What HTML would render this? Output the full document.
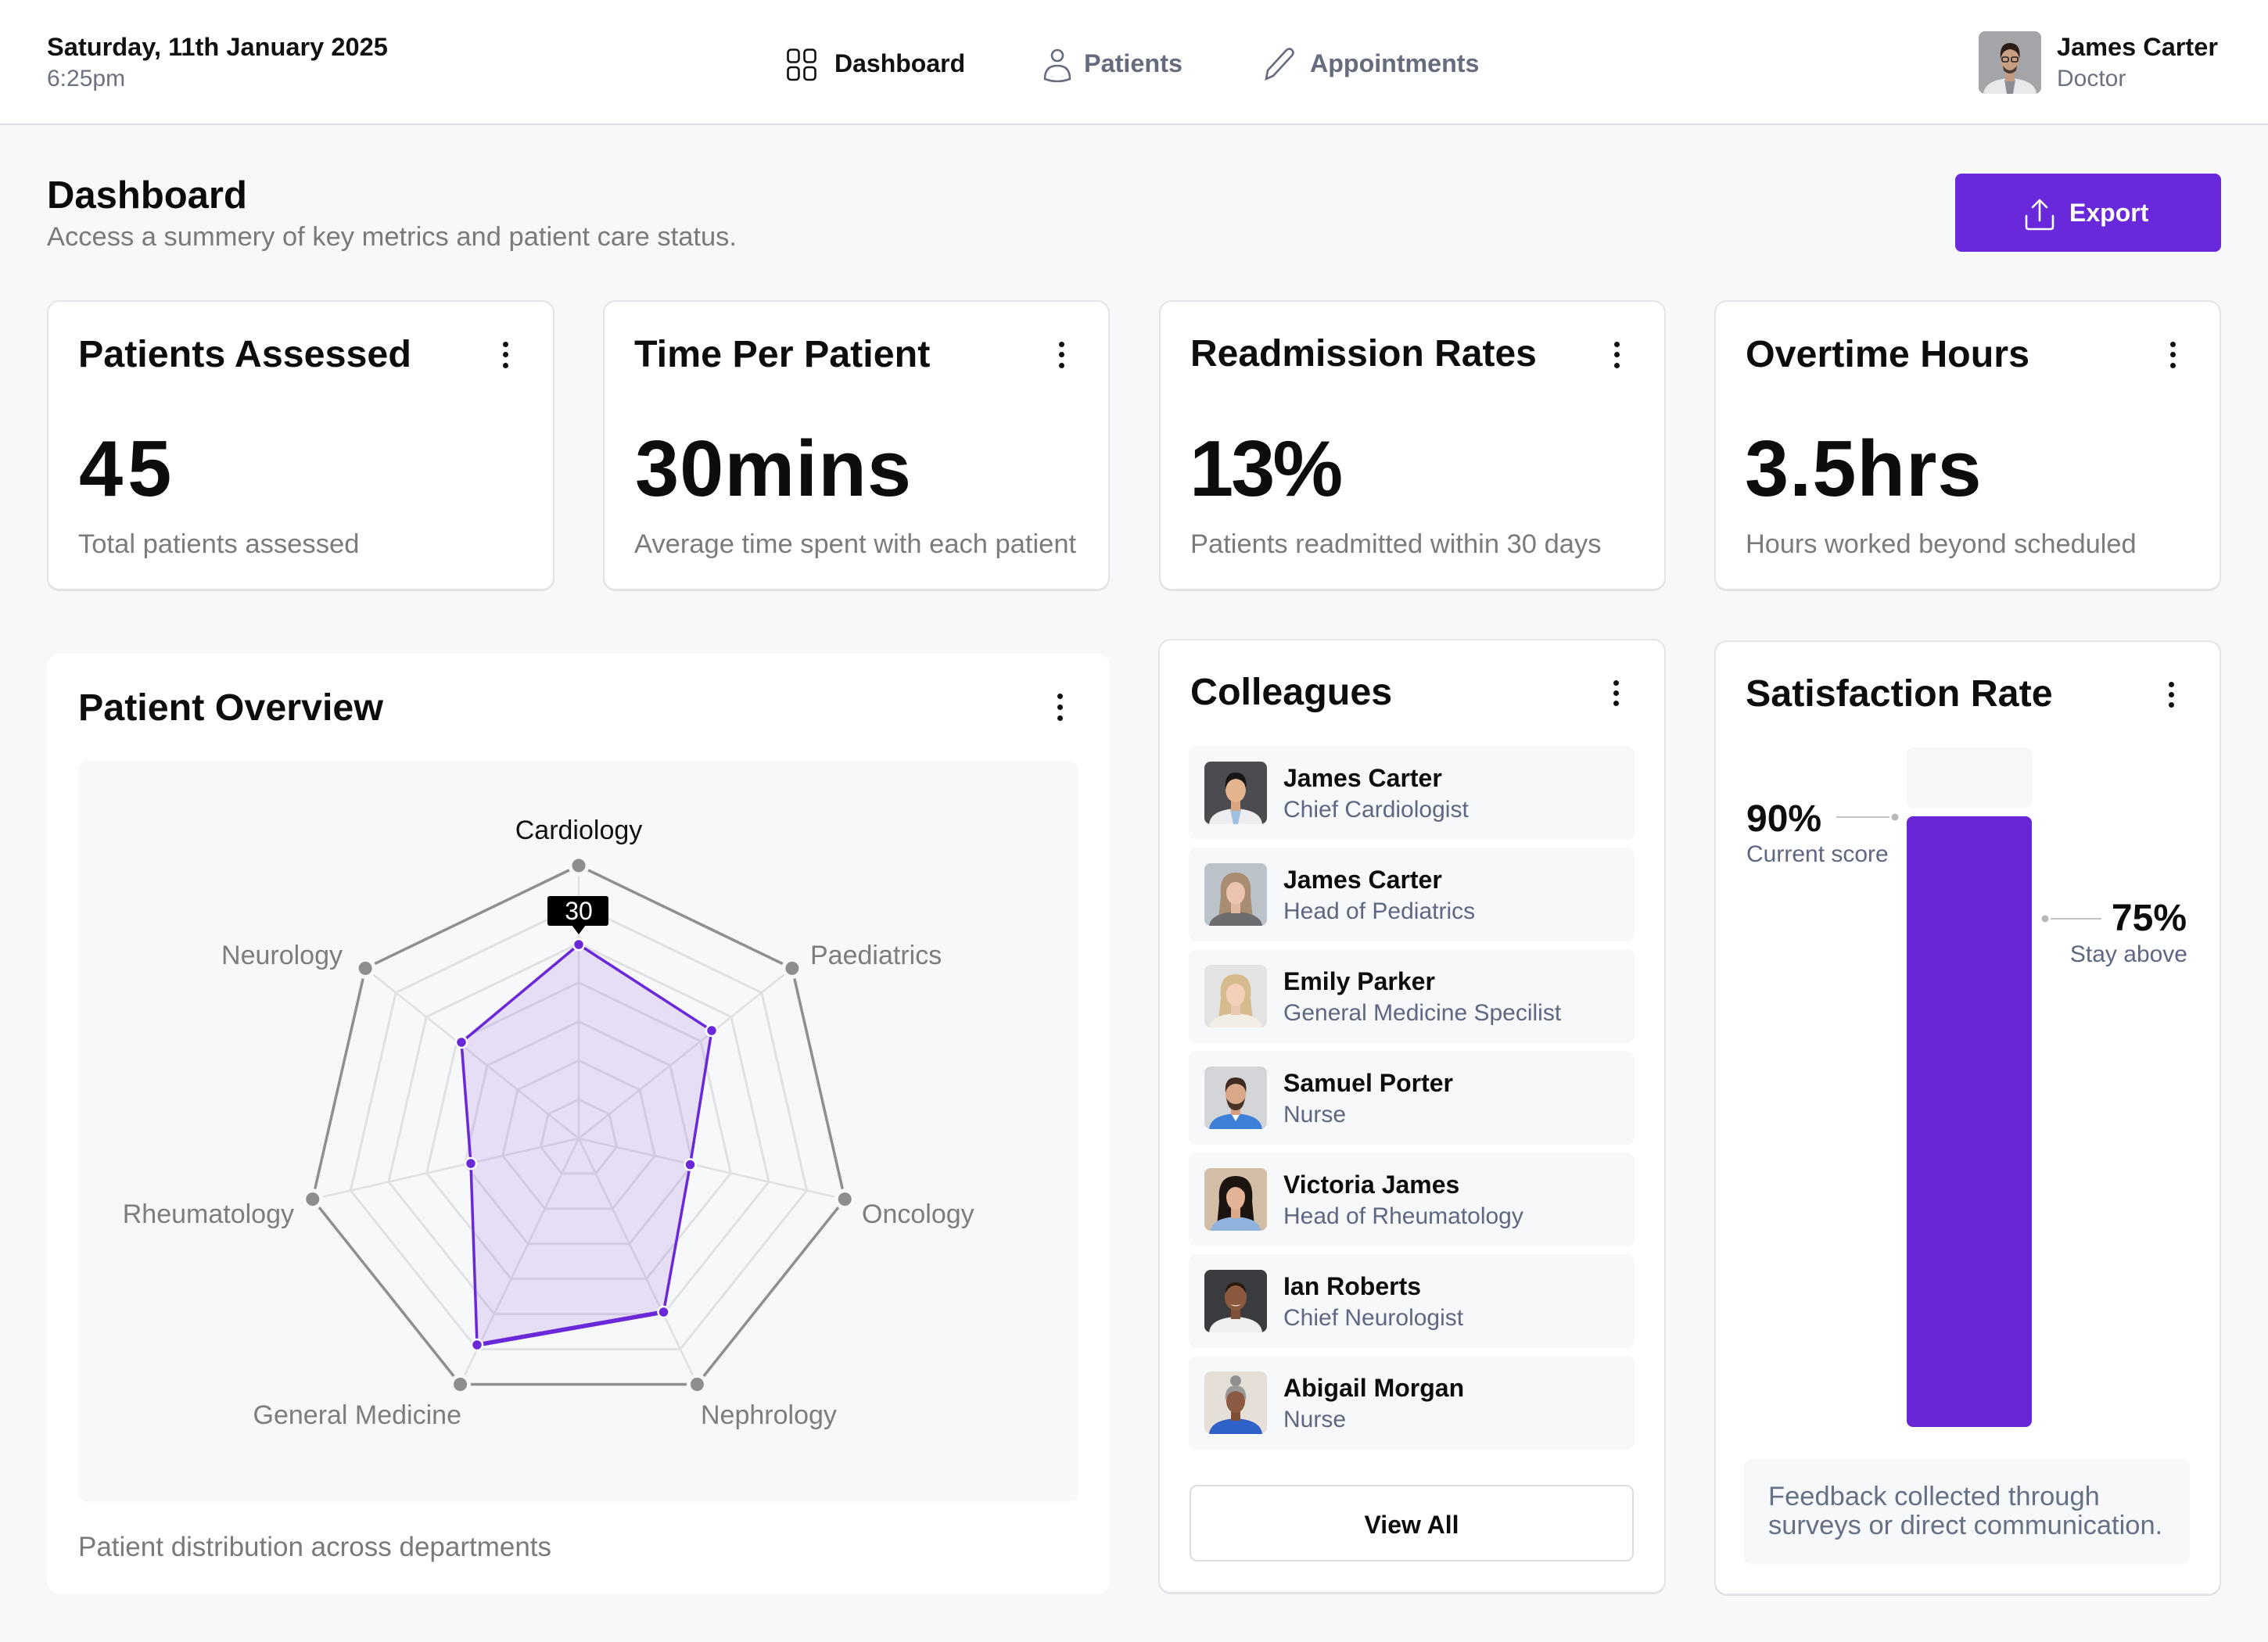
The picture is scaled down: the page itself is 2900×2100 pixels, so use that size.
<!DOCTYPE html>
<html><head><meta charset="utf-8"><style>
*{margin:0;padding:0;box-sizing:border-box}
html,body{width:2900px;height:2100px;overflow:hidden}
body{background:#f7f8fa;font-family:"Liberation Sans",Arial,sans-serif;position:relative;color:#0d0d0d}
.a{position:absolute}
.t{position:absolute;white-space:nowrap;line-height:1}
.b{font-weight:bold}
.card{position:absolute;background:#fff;border:2px solid #e3e4e7;border-radius:16px;box-shadow:0 1px 0 #e0e1e4}
.item{position:absolute;left:1520px;width:570px;height:120px;background:#f7f8fa;border-radius:10px}
.av{position:absolute;width:80px;height:80px;border-radius:8px;overflow:hidden}
.nm{position:absolute;left:1641px;font-size:32px;font-weight:bold;line-height:1;white-space:nowrap;color:#0d0d0d}
.rl{position:absolute;left:1641px;font-size:30px;line-height:1;white-space:nowrap;color:#5e6681}
.dot{position:absolute;width:7px;height:7px;border-radius:50%;background:#111}
</style></head><body>

<!-- header -->
<div class="a" style="left:0;top:0;width:2900px;height:160px;background:#fff;border-bottom:2px solid #dcdde0"></div>
<div class="t b" style="left:60px;top:44px;font-size:32.6px;color:#111">Saturday, 11th January 2025</div>
<div class="t" style="left:60px;top:86px;font-size:30px;color:#6b7180">6:25pm</div>

<svg class="a" style="left:0;top:0" width="2900" height="160">
  <g fill="none" stroke="#111" stroke-width="2.6">
    <rect x="1007.5" y="63.5" width="14" height="16" rx="4"/>
    <rect x="1028.5" y="63.5" width="14" height="16" rx="4"/>
    <rect x="1007.5" y="86" width="14" height="16" rx="4"/>
    <rect x="1028.5" y="86" width="14" height="16" rx="4"/>
  </g>
  <g fill="none" stroke="#666c7e" stroke-width="2.6">
    <circle cx="1352" cy="71" r="7"/>
    <path d="M1336 101 Q1336 84 1352 84 Q1368 84 1368 101 Q1352 107 1336 101Z"/>
    <path d="M1619 101 L1621 90 L1645 64 Q1649 61 1652 64 Q1655 67 1652 71 L1628 97 Z"/>
  </g>
</svg>
<div class="t b" style="left:1067px;top:65px;font-size:32px;color:#111">Dashboard</div>
<div class="t b" style="left:1386px;top:65px;font-size:32.4px;color:#666c7e">Patients</div>
<div class="t b" style="left:1675px;top:65px;font-size:32.2px;color:#666c7e">Appointments</div>

<div class="av" style="left:2530px;top:40px">
<svg width="80" height="80" viewBox="0 0 80 80"><rect width="80" height="80" fill="#a4a5a8"/>
<path d="M6 80 Q8 62 40 60 Q72 62 74 80Z" fill="#e9e9eb"/><path d="M33 62 L47 62 L44 80 L36 80Z" fill="#8b8d92"/>
<path d="M34 48 L46 48 L46 64 L34 64Z" fill="#c49a80"/><ellipse cx="40" cy="36" rx="12" ry="16" fill="#c99f84"/>
<path d="M28 36 Q26 15 40 15 Q55 15 52 36 Q51 24 40 23 Q30 24 28 36Z" fill="#2a1e18"/>
<path d="M31 44 Q40 56 49 44 L48 50 Q40 58 32 50Z" fill="#4a3a30"/>
<g fill="none" stroke="#222" stroke-width="1.6"><rect x="30" y="33" width="8" height="6" rx="2"/><rect x="42" y="33" width="8" height="6" rx="2"/></g></svg></div>
<div class="t b" style="left:2630px;top:44px;font-size:32.5px;color:#111">James Carter</div>
<div class="t" style="left:2630px;top:86px;font-size:30px;color:#6b7180">Doctor</div>

<!-- title -->
<div class="t b" style="left:60px;top:226px;font-size:49px;color:#0a0a0a">Dashboard</div>
<div class="t" style="left:60px;top:286px;font-size:34.5px;color:#7a7a7a">Access a summery of key metrics and patient care status.</div>
<div class="a" style="left:2500px;top:222px;width:340px;height:100px;background:#6928d9;border-radius:8px"></div>
<svg class="a" style="left:2580px;top:248px" width="60" height="52"><g fill="none" stroke="#fff" stroke-width="2.6" stroke-linecap="round" stroke-linejoin="round"><path d="M28 8 V34 M19 17 L28 8 L37 17"/><path d="M11 28 V42 Q11 45 14 45 H42 Q45 45 45 42 V28"/></g></svg>
<div class="t b" style="left:2646px;top:256px;font-size:32px;color:#fff">Export</div>

<!-- stat cards -->
<div class="card" style="left:60px;top:384px;width:649px;height:371px"></div>
<div class="card" style="left:771px;top:384px;width:648px;height:371px"></div>
<div class="card" style="left:1482px;top:384px;width:648px;height:371px"></div>
<div class="card" style="left:2192px;top:384px;width:648px;height:371px"></div>

<div class="t b" style="left:100px;top:429px;font-size:48.4px">Patients Assessed</div>
<div class="t b" style="left:811px;top:429px;font-size:48.4px">Time Per Patient</div>
<div class="t b" style="left:1522px;top:429px;font-size:48px">Readmission Rates</div>
<div class="t b" style="left:2232px;top:429px;font-size:48.4px">Overtime Hours</div>

<div class="t b" style="left:101px;top:550px;font-size:101px;letter-spacing:6px">45</div>
<div class="t b" style="left:812px;top:550px;font-size:101px;letter-spacing:1px">30mins</div>
<div class="t b" style="left:1521px;top:550px;font-size:101px;letter-spacing:-3px">13%</div>
<div class="t b" style="left:2231px;top:550px;font-size:101px;letter-spacing:1px">3.5hrs</div>

<div class="t" style="left:100px;top:679px;font-size:34.6px;color:#7b7b7b">Total patients assessed</div>
<div class="t" style="left:811px;top:679px;font-size:34.5px;color:#7b7b7b">Average time spent with each patient</div>
<div class="t" style="left:1522px;top:679px;font-size:34.5px;color:#7b7b7b">Patients readmitted within 30 days</div>
<div class="t" style="left:2232px;top:679px;font-size:34.3px;color:#7b7b7b">Hours worked beyond scheduled</div>

<div class="dot" style="left:643px;top:437px"></div><div class="dot" style="left:643px;top:450px"></div><div class="dot" style="left:643px;top:464px"></div>
<div class="dot" style="left:1354px;top:437px"></div><div class="dot" style="left:1354px;top:450px"></div><div class="dot" style="left:1354px;top:464px"></div>
<div class="dot" style="left:2064px;top:437px"></div><div class="dot" style="left:2064px;top:450px"></div><div class="dot" style="left:2064px;top:464px"></div>
<div class="dot" style="left:2775px;top:437px"></div><div class="dot" style="left:2775px;top:450px"></div><div class="dot" style="left:2775px;top:464px"></div>

<!-- patient overview -->
<div class="a" style="left:60px;top:836px;width:1359px;height:1202px;background:#fff;border-radius:16px"></div>
<div class="t b" style="left:100px;top:881px;font-size:48.4px">Patient Overview</div>
<div class="dot" style="left:1352px;top:887px"></div><div class="dot" style="left:1352px;top:901px"></div><div class="dot" style="left:1352px;top:915px"></div>
<div class="a" style="left:100px;top:973px;width:1279px;height:948px;background:#f7f8fa;border-radius:12px"></div>
<div class="t" style="left:100px;top:1961px;font-size:35px;color:#7a7a7a">Patient distribution across departments</div>

<svg class="a" style="left:0;top:0" width="2900" height="2100">
<g transform="translate(740 1456)">
  <g fill="none" stroke="#e1e1e4" stroke-width="3">
    <polygon vector-effect="non-scaling-stroke" transform="scale(0.142857)" points="0,-349 272.86,-217.6 340.25,77.66 151.42,314.44 -151.42,314.44 -340.25,77.66 -272.86,-217.6"/>
    <polygon vector-effect="non-scaling-stroke" transform="scale(0.285714)" points="0,-349 272.86,-217.6 340.25,77.66 151.42,314.44 -151.42,314.44 -340.25,77.66 -272.86,-217.6"/>
    <polygon vector-effect="non-scaling-stroke" transform="scale(0.428571)" points="0,-349 272.86,-217.6 340.25,77.66 151.42,314.44 -151.42,314.44 -340.25,77.66 -272.86,-217.6"/>
    <polygon vector-effect="non-scaling-stroke" transform="scale(0.571429)" points="0,-349 272.86,-217.6 340.25,77.66 151.42,314.44 -151.42,314.44 -340.25,77.66 -272.86,-217.6"/>
    <polygon vector-effect="non-scaling-stroke" transform="scale(0.714286)" points="0,-349 272.86,-217.6 340.25,77.66 151.42,314.44 -151.42,314.44 -340.25,77.66 -272.86,-217.6"/>
    <polygon vector-effect="non-scaling-stroke" transform="scale(0.857143)" points="0,-349 272.86,-217.6 340.25,77.66 151.42,314.44 -151.42,314.44 -340.25,77.66 -272.86,-217.6"/>
    <path stroke-width="2.6" d="M0 0L0 -349M0 0L272.86 -217.6M0 0L340.25 77.66M0 0L151.42 314.44M0 0L-151.42 314.44M0 0L-340.25 77.66M0 0L-272.86 -217.6"/>
  </g>
  <polygon fill="none" stroke="#8f8f8f" stroke-width="3.5" points="0,-349 272.86,-217.6 340.25,77.66 151.42,314.44 -151.42,314.44 -340.25,77.66 -272.86,-217.6"/>
  <g fill="#8e8e8e" stroke="#f7f8fa" stroke-width="5">
    <circle cx="0" cy="-349" r="11"/><circle cx="272.86" cy="-217.6" r="11"/><circle cx="340.25" cy="77.66" r="11"/><circle cx="151.42" cy="314.44" r="11"/><circle cx="-151.42" cy="314.44" r="11"/><circle cx="-340.25" cy="77.66" r="11"/><circle cx="-272.86" cy="-217.6" r="11"/>
  </g>
  <polygon fill="rgba(106,40,217,0.12)" stroke="#6a28d9" stroke-width="3.5" stroke-linejoin="round" points="0,-248 170,-138 142.5,33.5 108.5,222 -130,264 -138,32 -150,-123"/>
  <line x1="108.5" y1="222" x2="-130" y2="264" stroke="#6a28d9" stroke-width="5.5"/>
  <g fill="#6a28d9" stroke="#fff" stroke-width="2.5">
    <circle cx="0" cy="-248" r="7"/><circle cx="170" cy="-138" r="7"/><circle cx="142.5" cy="33.5" r="7"/><circle cx="108.5" cy="222" r="7"/><circle cx="-130" cy="264" r="7"/><circle cx="-138" cy="32" r="7"/><circle cx="-150" cy="-123" r="7"/>
  </g>
</g>
<rect x="700" y="1146" width="78" height="38" rx="3" fill="#000"/>
<polygon points="731,1183 749,1183 740,1195" fill="#000"/>
<g font-family="Liberation Sans, Arial, sans-serif" font-size="34">
  <text x="740" y="1176" font-size="32" fill="#fff" text-anchor="middle">30</text>
  <text x="740" y="1073" fill="#111" text-anchor="middle">Cardiology</text>
  <text x="438" y="1233" fill="#7d7d7d" text-anchor="end">Neurology</text>
  <text x="1036" y="1233" fill="#7d7d7d">Paediatrics</text>
  <text x="376" y="1564" fill="#7d7d7d" text-anchor="end">Rheumatology</text>
  <text x="1102" y="1564" fill="#7d7d7d">Oncology</text>
  <text x="590" y="1821" fill="#7d7d7d" text-anchor="end">General Medicine</text>
  <text x="896" y="1821" fill="#7d7d7d">Nephrology</text>
</g>
</svg>

<!-- colleagues -->
<div class="card" style="left:1481px;top:817px;width:649px;height:1221px"></div>
<div class="t b" style="left:1522px;top:861px;font-size:48.4px">Colleagues</div>
<div class="dot" style="left:2063px;top:870px"></div><div class="dot" style="left:2063px;top:883px"></div><div class="dot" style="left:2063px;top:896px"></div>

<div class="item" style="top:954px"></div>
<div class="item" style="top:1084px"></div>
<div class="item" style="top:1214px"></div>
<div class="item" style="top:1344px"></div>
<div class="item" style="top:1474px"></div>
<div class="item" style="top:1604px"></div>
<div class="item" style="top:1734px"></div>

<div class="av" style="left:1540px;top:974px"><svg width="80" height="80" viewBox="0 0 80 80"><rect width="80" height="80" fill="#4b4b50"/><path d="M6 80 Q8 62 40 60 Q72 62 74 80Z" fill="#eeeef0"/><path d="M33 61 L47 61 L43 80 L37 80Z" fill="#9fc0e0"/><path d="M34 48 L46 48 L46 63 L34 63Z" fill="#d9a582"/><ellipse cx="40" cy="36" rx="13" ry="16" fill="#e4b48e"/><path d="M27 36 Q25 14 40 14 Q56 14 53 36 Q52 23 40 22 Q29 23 27 36Z" fill="#161616"/></svg></div>
<div class="av" style="left:1540px;top:1104px"><svg width="80" height="80" viewBox="0 0 80 80"><rect width="80" height="80" fill="#bcc2c9"/><path d="M21 42 Q18 12 40 12 Q62 12 59 42 L62 70 L18 70Z" fill="#a88d72"/><path d="M6 80 Q8 64 40 62 Q72 64 74 80Z" fill="#6d6d70"/><path d="M34 50 L46 50 L46 64 L34 64Z" fill="#e2b8a0"/><ellipse cx="40" cy="37" rx="12" ry="16" fill="#ecc4ad"/><path d="M28 34 Q30 20 40 19 Q50 20 52 34 Q48 24 40 24 Q32 24 28 34Z" fill="#a88d72"/></svg></div>
<div class="av" style="left:1540px;top:1234px"><svg width="80" height="80" viewBox="0 0 80 80"><rect width="80" height="80" fill="#e3e3e3"/><path d="M21 42 Q18 12 40 12 Q62 12 59 42 L62 72 L18 72Z" fill="#d6bb8e"/><path d="M6 80 Q8 64 40 62 Q72 64 74 80Z" fill="#f2eee6"/><path d="M34 50 L46 50 L46 64 L34 64Z" fill="#eac7b0"/><ellipse cx="40" cy="37" rx="12" ry="16" fill="#f1cfb8"/><path d="M28 34 Q30 20 40 19 Q50 20 52 34 Q48 24 40 24 Q32 24 28 34Z" fill="#d6bb8e"/></svg></div>
<div class="av" style="left:1540px;top:1364px"><svg width="80" height="80" viewBox="0 0 80 80"><rect width="80" height="80" fill="#d4d5d8"/><path d="M6 80 Q8 62 40 60 Q72 62 74 80Z" fill="#3d7fd9"/><path d="M34 60 L46 60 L40 70Z" fill="#fff"/><path d="M34 48 L46 48 L46 62 L34 62Z" fill="#d29f82"/><ellipse cx="40" cy="36" rx="13" ry="16" fill="#dba98a"/><path d="M28 40 Q30 56 40 56 Q50 56 52 40 Q48 48 40 48 Q32 48 28 40Z" fill="#4a3426"/><path d="M27 34 Q25 14 40 14 Q56 14 53 34 Q52 23 40 22 Q29 23 27 34Z" fill="#3f2c20"/></svg></div>
<div class="av" style="left:1540px;top:1494px"><svg width="80" height="80" viewBox="0 0 80 80"><rect width="80" height="80" fill="#d2bea6"/><path d="M19 42 Q16 10 40 10 Q64 10 61 42 L64 74 L16 74Z" fill="#1c1410"/><path d="M8 80 Q10 64 40 62 Q70 64 72 80Z" fill="#8fb3dc"/><path d="M34 50 L46 50 L46 64 L34 64Z" fill="#d8a888"/><ellipse cx="40" cy="37" rx="12" ry="16" fill="#e2b394"/><path d="M28 34 Q30 18 40 18 Q52 18 52 32 Q46 24 40 24 Q32 24 28 34Z" fill="#1c1410"/></svg></div>
<div class="av" style="left:1540px;top:1624px"><svg width="80" height="80" viewBox="0 0 80 80"><rect width="80" height="80" fill="#3b3c40"/><path d="M6 80 Q8 62 40 60 Q72 62 74 80Z" fill="#f0f0f2"/><path d="M34 48 L46 48 L46 63 L34 63Z" fill="#7e5036"/><ellipse cx="40" cy="35" rx="14" ry="17" fill="#8b5a3e"/><path d="M27 30 Q27 16 40 16 Q53 16 53 30 Q48 20 40 20 Q32 20 27 30Z" fill="#2a1a12"/><path d="M33 44 Q40 49 47 44 Q40 47 33 44Z" fill="#fff"/></svg></div>
<div class="av" style="left:1540px;top:1754px"><svg width="80" height="80" viewBox="0 0 80 80"><rect width="80" height="80" fill="#e6dfd8"/><path d="M6 80 Q8 62 40 60 Q72 62 74 80Z" fill="#2f62c9"/><path d="M34 48 L46 48 L46 63 L34 63Z" fill="#7e5036"/><ellipse cx="40" cy="38" rx="12" ry="15" fill="#8a5a42"/><circle cx="40" cy="12" r="7" fill="#909090"/><path d="M27 38 Q25 18 40 18 Q55 18 53 38 Q51 26 40 25 Q29 26 27 38Z" fill="#9a9a9a"/></svg></div>

<div class="nm" style="top:979px">James Carter</div><div class="rl" style="top:1021px">Chief Cardiologist</div>
<div class="nm" style="top:1109px">James Carter</div><div class="rl" style="top:1151px">Head of Pediatrics</div>
<div class="nm" style="top:1239px">Emily Parker</div><div class="rl" style="top:1281px">General Medicine Specilist</div>
<div class="nm" style="top:1369px">Samuel Porter</div><div class="rl" style="top:1411px">Nurse</div>
<div class="nm" style="top:1499px">Victoria James</div><div class="rl" style="top:1541px">Head of Rheumatology</div>
<div class="nm" style="top:1629px">Ian Roberts</div><div class="rl" style="top:1671px">Chief Neurologist</div>
<div class="nm" style="top:1759px">Abigail Morgan</div><div class="rl" style="top:1801px">Nurse</div>

<div class="a" style="left:1521px;top:1899px;width:568px;height:98px;background:#fff;border:2px solid #dcdde0;border-radius:10px"></div>
<div class="t b" style="left:1521px;top:1934px;width:568px;text-align:center;font-size:32px">View All</div>

<!-- satisfaction -->
<div class="card" style="left:2192px;top:819px;width:648px;height:1221px"></div>
<div class="t b" style="left:2232px;top:863px;font-size:48.4px">Satisfaction Rate</div>
<div class="dot" style="left:2773px;top:872px"></div><div class="dot" style="left:2773px;top:885px"></div><div class="dot" style="left:2773px;top:898px"></div>
<div class="a" style="left:2438px;top:956px;width:160px;height:78px;background:#f6f7f9;border-radius:8px"></div>
<div class="a" style="left:2438px;top:1044px;width:160px;height:781px;background:#6826d7;border-radius:8px"></div>
<svg class="a" style="left:2300px;top:1020px" width="420" height="180">
  <line x1="48" y1="25" x2="116" y2="25" stroke="#c4c4c4" stroke-width="2"/>
  <circle cx="123" cy="25" r="4.5" fill="#b8b8b8"/>
  <line x1="322" y1="155" x2="387" y2="155" stroke="#c4c4c4" stroke-width="2"/>
  <circle cx="315" cy="155" r="4.5" fill="#b8b8b8"/>
</svg>
<div class="t b" style="left:2233px;top:1024px;font-size:48px">90%</div>
<div class="t" style="left:2233px;top:1078px;font-size:30px;color:#5e6681">Current score</div>
<div class="t b" style="right:104px;top:1151px;font-size:48px">75%</div>
<div class="t" style="right:103px;top:1206px;font-size:30px;color:#5e6681">Stay above</div>

<div class="a" style="left:2230px;top:1866px;width:570px;height:135px;background:#f7f8fa;border-radius:10px"></div>
<div class="a" style="left:2261px;top:1896px;font-size:34.5px;line-height:37px;white-space:nowrap;color:#667085">Feedback collected through<br>surveys or direct communication.</div>

</body></html>
